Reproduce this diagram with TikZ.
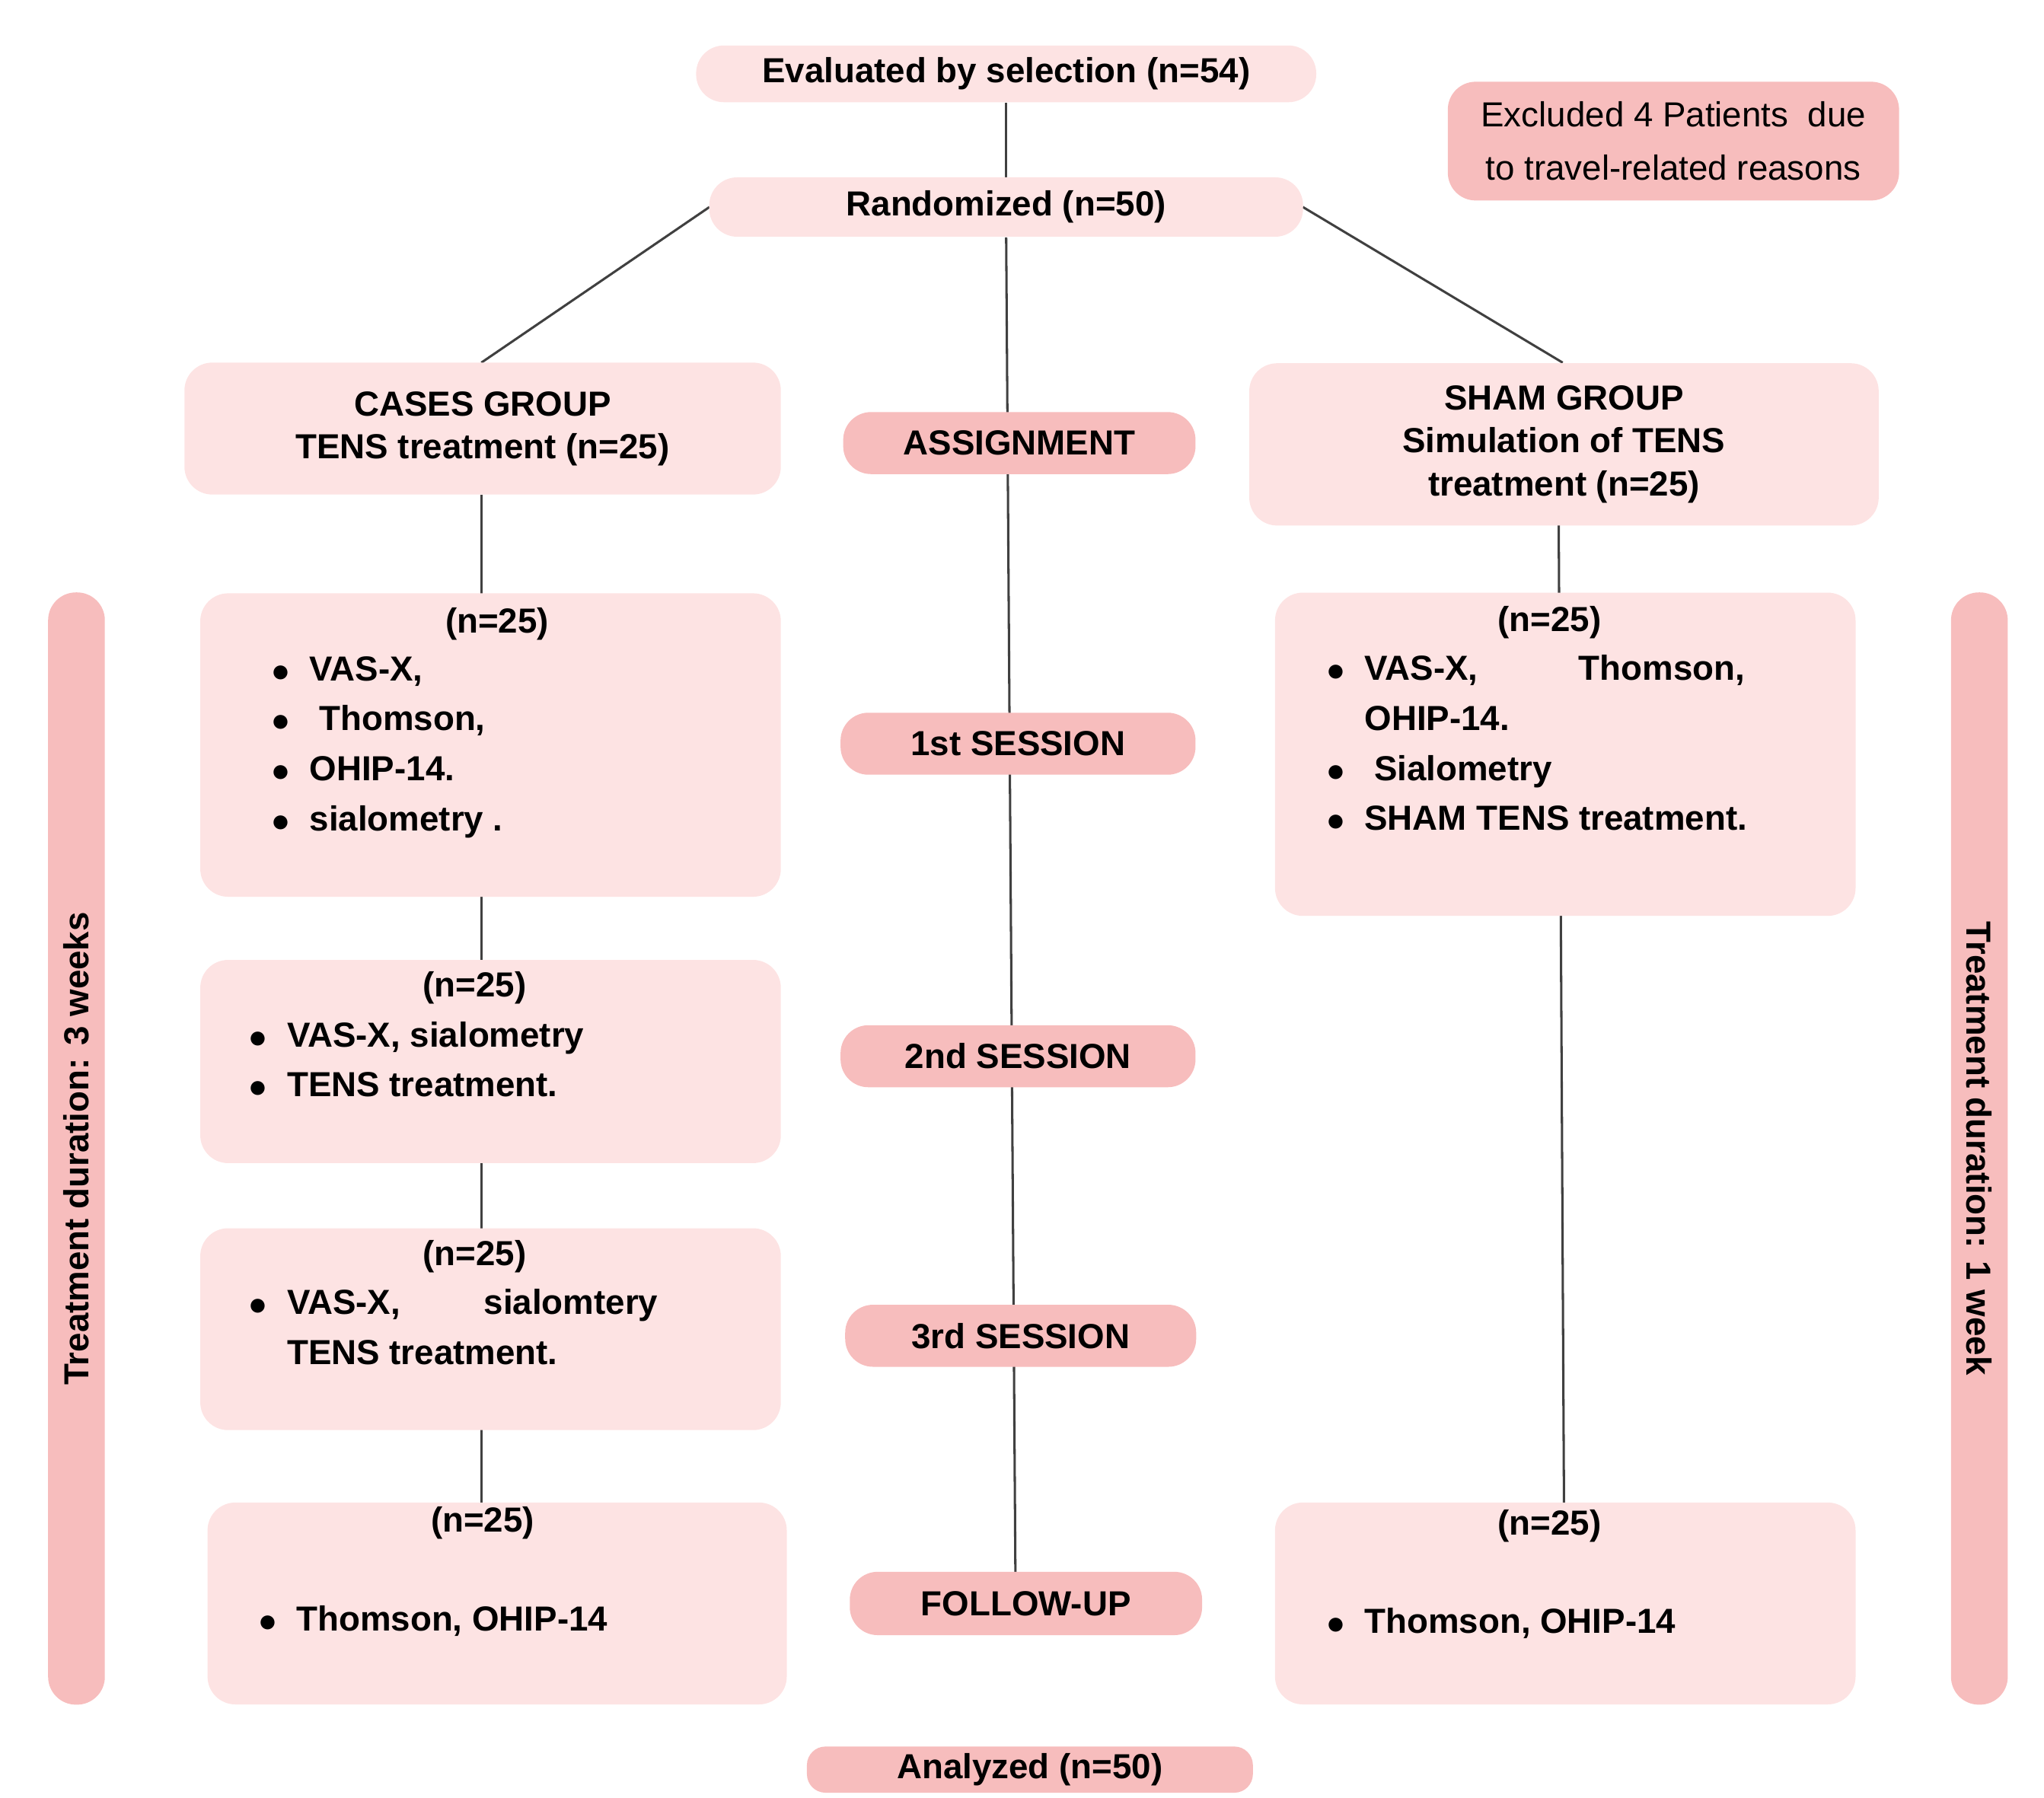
\documentclass[tikz,border=0pt]{standalone}
\usepackage{fontspec}
\setmainfont{Liberation Sans}
\definecolor{pinklight}{HTML}{FDE3E3}
\definecolor{pinkdark}{HTML}{F7BDBD}
\newcommand{\bdot}{{\scriptsize$\bullet$}}
\begin{document}
\begin{tikzpicture}[x=0.01cm, y=-0.01cm,
    box/.style={
        rectangle,
        rounded corners=6pt,
        draw=none,
        fill=#1,
        inner sep=0pt,
        font=\fontsize{7.5}{9.2}\selectfont\bfseries,
        align=center
    },
    box/.default=pinklight,
    txt/.style={font=\fontsize{7.5}{10.8}\selectfont\bfseries, align=left, anchor=north west, inner sep=0pt},
    link/.style={draw=black!75, line width=0.5pt}
]
\useasboundingbox (0,0) rectangle (1550,1363);

% connectors first (behind boxes)
\coordinate (cx1) at (763,180);
\coordinate (cx2) at (770,1192);
\draw[link] (763,78) coordinate (e0) -- (763,135) coordinate (r0);
\draw[link] (cx1) -- (cx2);
\draw[link] (538,157) coordinate (rw) -- (365,275) coordinate (cn);
\draw[link] (988,157) coordinate (re) -- (1185,275) coordinate (sn);
\draw[link] (365,375) coordinate (l0) -- (365,1140) coordinate (l9);
\draw[link] (1182,398) coordinate (s0) -- (1186,1140) coordinate (s9);

% central column
\node[box, minimum width=4.7cm, minimum height=0.43cm] (eval) at (763,56) {Evaluated by selection (n=54)};
\node[box=pinkdark, minimum width=3.42cm, minimum height=0.9cm, font=\fontsize{7.5}{11.4}\selectfont] (excl) at (1269,107) {Excluded 4 Patients\ \ due\\to travel-related reasons};
\node[box, minimum width=4.5cm, minimum height=0.45cm] (rand) at (763,157) {Randomized (n=50)};
\node[box=pinkdark, minimum width=2.67cm, minimum height=0.47cm] (assign) at (773,336) {ASSIGNMENT};
\node[box=pinkdark, minimum width=2.69cm, minimum height=0.47cm] (ses1) at (772,564) {1st SESSION};
\node[box=pinkdark, minimum width=2.69cm, minimum height=0.47cm] (ses2) at (772,801) {2nd SESSION};
\node[box=pinkdark, minimum width=2.66cm, minimum height=0.47cm] (ses3) at (774,1013) {3rd SESSION};
\node[box=pinkdark, minimum width=2.67cm, minimum height=0.48cm] (follow) at (778,1216) {FOLLOW-UP};
\node[box=pinkdark, rounded corners=4pt, minimum width=3.38cm, minimum height=0.35cm] (anal) at (781,1342) {Analyzed (n=50)};

% groups
\node[box, minimum width=4.52cm, minimum height=1.0cm] (cases) at (366,325) {CASES GROUP\\TENS treatment (n=25)};
\node[box, minimum width=4.77cm, minimum height=1.23cm] (sham) at (1186,337) {SHAM GROUP\\Simulation of TENS\\treatment (n=25)};

% left column
\node[box, minimum width=4.4cm, minimum height=2.3cm] (l1) at (372,565) {};
\node[box, minimum width=4.4cm, minimum height=1.54cm] (l2) at (372,805) {};
\node[box, minimum width=4.4cm, minimum height=1.53cm] (l3) at (372,1008) {};
\node[box, minimum width=4.39cm, minimum height=1.53cm] (l4) at (377,1216) {};

% right column
\node[box, minimum width=4.4cm, minimum height=2.45cm] (r1) at (1187,572) {};
\node[box, minimum width=4.4cm, minimum height=1.53cm] (r4) at (1187,1216) {};

% side bars
\node[box=pinkdark, minimum width=0.43cm, minimum height=8.43cm] (barl) at (58,871) {};
\node[font=\fontsize{7.5}{9}\selectfont\bfseries, rotate=90] (barltxt) at (barl) {Treatment duration: 3 weeks};
\node[box=pinkdark, minimum width=0.43cm, minimum height=8.43cm] (barr) at (1501,871) {};
\node[font=\fontsize{7.5}{9}\selectfont\bfseries, rotate=-90] (barrtxt) at (barr) {Treatment duration: 1 week};

% box texts
\node[txt, anchor=north] at (377,460) {(n=25)};
\node[txt] at (205,497) {\bdot\ \ VAS-X,\\\bdot\ \ \ Thomson,\\\bdot\ \ OHIP-14.\\\bdot\ \ sialometry .};
\node[txt, anchor=north] at (360,736) {(n=25)};
\node[txt] at (188,774) {\bdot\ \ VAS-X, sialometry\\\bdot\ \ TENS treatment.};
\node[txt, anchor=north] at (360,940) {(n=25)};
\node[txt] at (188,977) {\bdot\ \ VAS-X,\hspace{2.4em}sialomtery\\\phantom{\bdot}\ \ TENS treatment.};
\node[txt, anchor=north] at (366,1142) {(n=25)};
\node[txt] at (195,1217) {\bdot\ \ Thomson, OHIP-14};
\node[txt, anchor=north] at (1175,459) {(n=25)};
\node[txt] at (1005,496) {\bdot\ \ VAS-X,\hspace{2.9em}Thomson,\\\phantom{\bdot}\ \ OHIP-14.\\\bdot\ \ \ Sialometry\\\bdot\ \ SHAM TENS treatment.};
\node[txt, anchor=north] at (1175,1144) {(n=25)};
\node[txt] at (1005,1219) {\bdot\ \ Thomson, OHIP-14};
\end{tikzpicture}
\end{document}
